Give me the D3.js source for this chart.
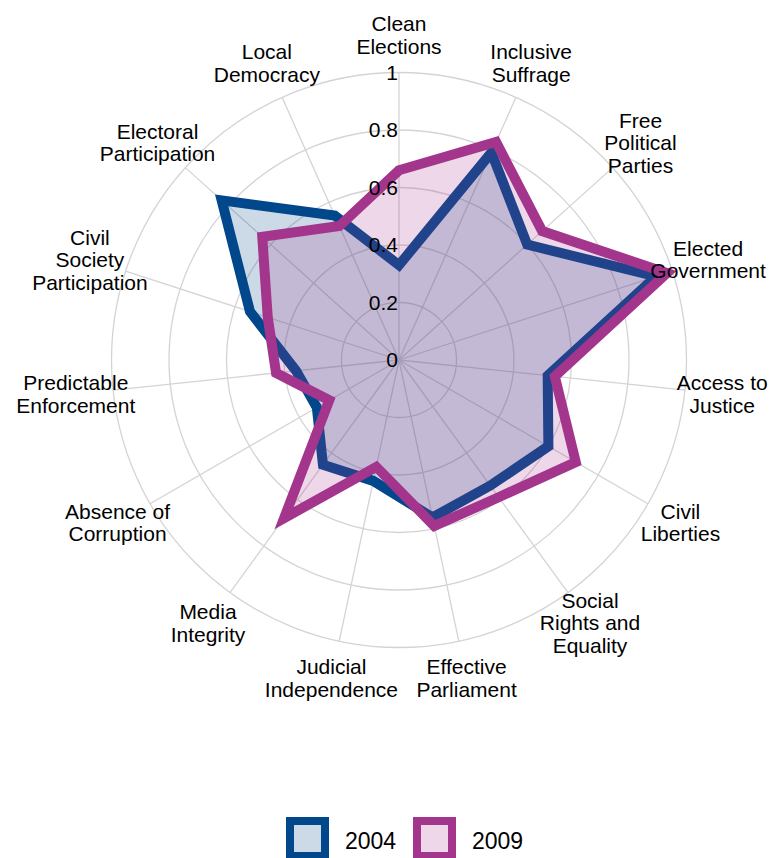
<!DOCTYPE html>
<html>
<head>
<meta charset="utf-8">
<script src="https://cdn.jsdelivr.net/npm/d3@7"></script>
<style>
  html, body { margin: 0; padding: 0; background: #ffffff; }
  svg { display: block; font-family: "Liberation Sans", Arial, Helvetica, sans-serif; }
</style>
</head>
<body>
<svg id="chart" width="776" height="858"></svg>
<script>
// ---- Data ----
const categories = [
  "Clean|Elections",
  "Inclusive|Suffrage",
  "Free|Political|Parties",
  "Elected|Government",
  "Access to|Justice",
  "Civil|Liberties",
  "Social|Rights and|Equality",
  "Effective|Parliament",
  "Judicial|Independence",
  "Media|Integrity",
  "Absence of|Corruption",
  "Predictable|Enforcement",
  "Civil|Society|Participation",
  "Electoral|Participation",
  "Local|Democracy"
];
const values2004 = [0.33, 0.79, 0.60, 0.94, 0.52, 0.60, 0.54, 0.56, 0.43, 0.45, 0.33, 0.36, 0.545, 0.83, 0.55];
const values2009 = [0.66, 0.83, 0.67, 0.98, 0.545, 0.71, 0.59, 0.59, 0.38, 0.68, 0.28, 0.43, 0.48, 0.64, 0.51];
const seriesNames = ["2004", "2009"];
const seriesColors = ["#00478b", "#a3358c"];
const tickValues = [0, 0.2, 0.4, 0.6, 0.8, 1];
const tickLabels = ["0", "0.2", "0.4", "0.6", "0.8", "1"];

// ---- Layout ----
const svg = d3.select("#chart");
const cx = 399, cy = 360, R = 287.5;
const n = categories.length;
const rScale = d3.scaleLinear().domain([0, 1]).range([0, R]);
const aScale = d3.scaleLinear().domain([0, n]).range([0, 2 * Math.PI]);
const g = svg.append("g").attr("transform", `translate(${cx},${cy})`);

// grid rings
g.selectAll("circle.ring").data(tickValues.filter(d => d > 0)).enter()
  .append("circle").attr("class", "ring")
  .attr("r", d => rScale(d))
  .attr("fill", "none").attr("stroke", "#d4d4d4").attr("stroke-width", 1.3);

// spokes
g.selectAll("line.spoke").data(d3.range(n)).enter()
  .append("line").attr("class", "spoke")
  .attr("x1", 0).attr("y1", 0)
  .attr("x2", i => rScale(1) * Math.sin(aScale(i)))
  .attr("y2", i => -rScale(1) * Math.cos(aScale(i)))
  .attr("stroke", "#d4d4d4").attr("stroke-width", 1.3);

// series
const radial = d3.lineRadial()
  .angle((d, i) => aScale(i))
  .radius(d => rScale(d))
  .curve(d3.curveLinearClosed);

[values2004, values2009].forEach((vals, k) => {
  g.append("path")
    .attr("d", radial(vals))
    .attr("fill", seriesColors[k]).attr("fill-opacity", 0.2)
    .attr("stroke", seriesColors[k]).attr("stroke-width", 10)
    .attr("stroke-linejoin", "miter").attr("stroke-miterlimit", 10);
});

// tick labels
g.selectAll("text.tick").data(tickValues).enter()
  .append("text").attr("class", "tick")
  .attr("x", -1).attr("y", d => -rScale(d))
  .attr("dy", "0.35em")
  .attr("text-anchor", "end")
  .attr("font-size", 21).attr("fill", "#000")
  .text((d, i) => tickLabels[i]);

// category labels
const labelR = 325, lh = 22.5;
categories.forEach((c, i) => {
  const lines = c.split("|");
  const a = aScale(i);
  const x = labelR * Math.sin(a), y = -labelR * Math.cos(a);
  const t = g.append("text")
    .attr("text-anchor", "middle").attr("font-size", 21).attr("fill", "#000");
  lines.forEach((ln, j) => {
    t.append("tspan").attr("x", x)
      .attr("y", y + (j - (lines.length - 1) / 2) * lh + 7.5)
      .text(ln);
  });
});

// legend
const legend = svg.append("g");
const legX = [290, 417];
seriesNames.forEach((s, k) => {
  legend.append("rect")
    .attr("x", legX[k]).attr("y", 821).attr("width", 35).attr("height", 35)
    .attr("fill", seriesColors[k]).attr("fill-opacity", 0.2)
    .attr("stroke", seriesColors[k]).attr("stroke-width", 8);
  legend.append("text")
    .attr("x", legX[k] + 55).attr("y", 849)
    .attr("font-size", 23).attr("fill", "#000")
    .text(s);
});
</script>
</body>
</html>
